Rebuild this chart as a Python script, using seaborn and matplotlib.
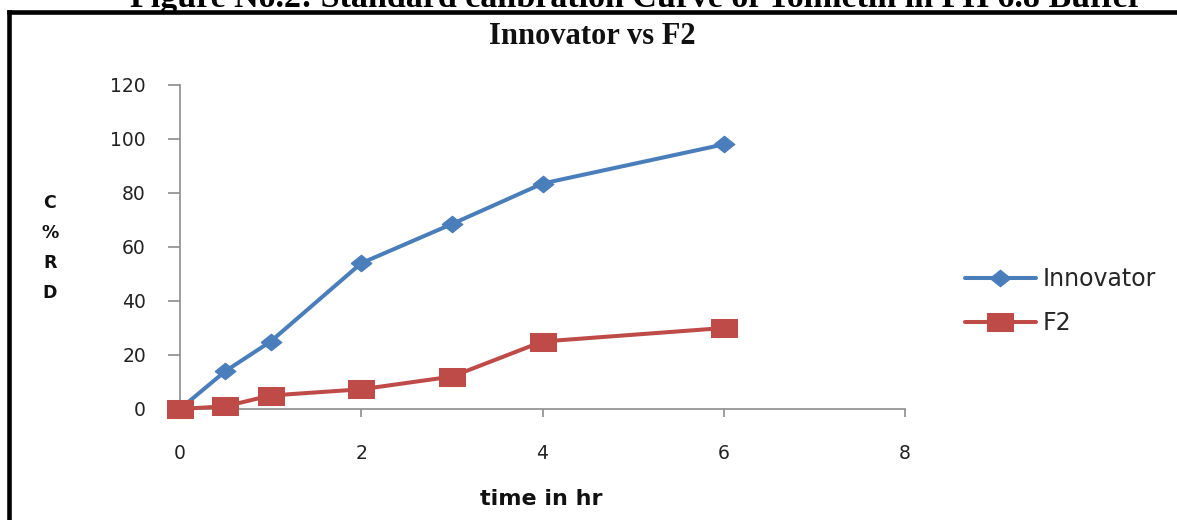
import matplotlib
matplotlib.use("Agg")
import matplotlib.pyplot as plt
from matplotlib.lines import Line2D
import seaborn as sns

# Dissolution data (% drug release vs time)
time_hr = [0, 0.5, 1, 2, 3, 4, 6]
innovator = [0, 14, 25, 54, 68.5, 83.5, 98]
f2 = [0, 1, 5, 7.3, 12, 25, 30]

x_ticks = [0, 2, 4, 6, 8]
y_ticks = [0, 20, 40, 60, 80, 100, 120]

BLUE = "#4A7EBB"
RED = "#BE4B48"
AXIS_GRAY = "#8C8C8C"

sns.set_theme(style="white")
plt.rcParams["font.family"] = ["DejaVu Sans"]

W, H = 1177, 520
fig = plt.figure(figsize=(W / 100, H / 100), dpi=100)

def fx(px):
    return px / W

def fy(py):
    return 1 - py / H

ax = fig.add_axes([fx(180), fy(409), fx(905) - fx(180), fy(85) - fy(409)])

diamond = [(-1.25, 0), (0, 1), (1.25, 0), (0, -1), (-1.25, 0)]
rect = [(-1.35, -1), (1.35, -1), (1.35, 1), (-1.35, 1), (-1.35, -1)]

sns.lineplot(x=time_hr, y=innovator, ax=ax, color=BLUE, lw=2.9,
             marker=diamond, markersize=15, markeredgecolor=BLUE,
             markerfacecolor=BLUE, clip_on=False, label="Innovator", zorder=3)
sns.lineplot(x=time_hr, y=f2, ax=ax, color=RED, lw=2.9,
             marker=rect, markersize=18, markeredgecolor=RED,
             markerfacecolor=RED, clip_on=False, label="F2", zorder=4)

ax.set_xlim(0, 8)
ax.set_ylim(0, 120)
ax.set_xticks(x_ticks)
ax.set_yticks(y_ticks)
ax.set_xticklabels([str(t) for t in x_ticks])
ax.set_yticklabels([str(t) for t in y_ticks])

for side in ("top", "right"):
    ax.spines[side].set_visible(False)
for side in ("left", "bottom"):
    ax.spines[side].set_color(AXIS_GRAY)
    ax.spines[side].set_linewidth(1.2)

ax.tick_params(axis="y", direction="out", length=8.5, width=1.2,
               color=AXIS_GRAY, pad=16, labelsize=13.5, labelcolor="#222222",
               left=True)
ax.tick_params(axis="x", direction="out", length=6, width=1.2,
               color=AXIS_GRAY, pad=19, labelsize=13.5, labelcolor="#222222",
               bottom=True)
ax.set_xlabel("")
ax.set_ylabel("")

# Axis titles
fig.text(fx(541), fy(499), "time in hr", ha="center", va="center",
         fontsize=16, fontweight="bold", color="#111111")
fig.text(fx(50), fy(248), "C\n%\nR\nD", ha="center", va="center",
         fontsize=12.5, fontweight="bold", color="#111111", linespacing=1.85)

# Chart title and caption
fig.text(fx(592), fy(37), "Innovator vs F2", ha="center", va="center",
         fontsize=22, fontweight="bold", family="Liberation Serif",
         color="#111111")
fig.text(fx(636), fy(7), "Figure No.2: Standard calibration Curve of Tolmetin in PH 6.8 Buffer",
         ha="center", va="baseline", fontsize=24.5, fontweight="bold",
         family="Liberation Serif", color="#000000")

# Legend
if ax.legend_ is not None:
    ax.legend_.remove()
handles, labels = ax.get_legend_handles_labels()
fig.legend(handles, labels, loc="center left",
           bbox_to_anchor=(fx(965), fy(301)), frameon=False,
           fontsize=17, handlelength=3.0, handletextpad=0.3,
           labelspacing=0.85, borderpad=0, borderaxespad=0)

# Page frame lines
fig.add_artist(Line2D([fx(9), 1.0], [fy(12), fy(12)], color="black",
                      lw=3.3, solid_capstyle="projecting",
                      transform=fig.transFigure))
fig.add_artist(Line2D([fx(9), fx(9)], [fy(12), 0.0], color="black",
                      lw=3.3, solid_capstyle="projecting",
                      transform=fig.transFigure))

fig.savefig("out.png", dpi=100)
